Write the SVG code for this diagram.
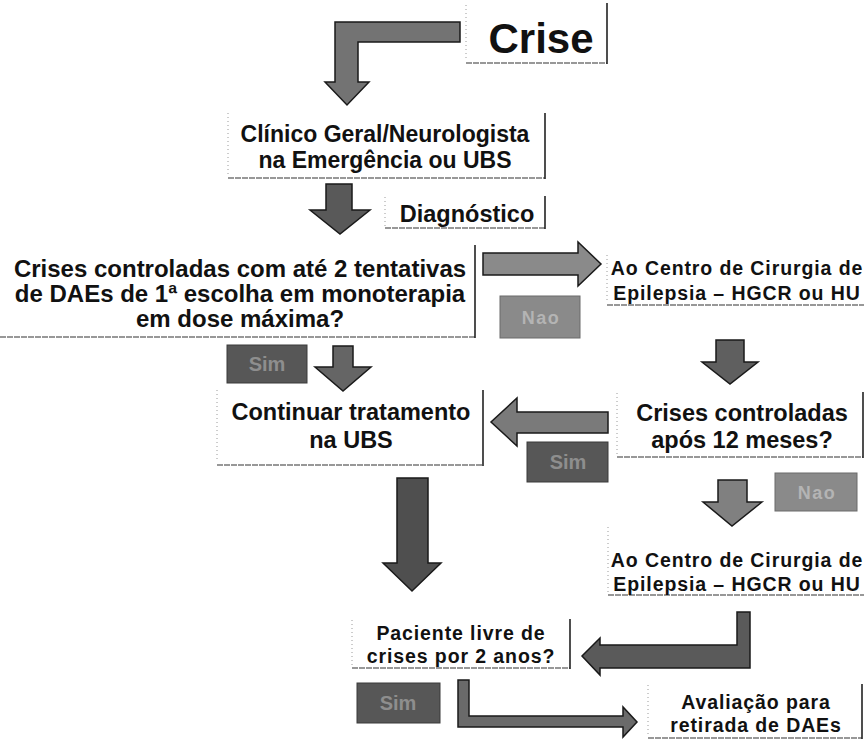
<svg xmlns="http://www.w3.org/2000/svg" width="864" height="740" viewBox="0 0 864 740">
<style>
.bg{fill:#ffffff}
.lft{stroke:#9a9a9a;stroke-width:1;stroke-dasharray:1 3;fill:none}
.btm{stroke:#333;stroke-width:1.2;stroke-dasharray:6 1;fill:none}
.rgt{stroke:#222;stroke-width:1.6;fill:none}
.big{font-family:"Liberation Sans",Arial,sans-serif;font-weight:bold;fill:#111;text-anchor:middle}
.sm{font-family:"Liberation Sans",Arial,sans-serif;font-weight:bold;fill:#111;text-anchor:middle;font-size:19.5px;letter-spacing:0.9px}
.arr{stroke:#1a1a1a;stroke-width:1.5;stroke-linejoin:miter}
.sim{fill:#575757;stroke:#3a3a3a;stroke-width:1}
.simt{font-family:"Liberation Sans",Arial,sans-serif;font-weight:bold;font-size:20px;fill:#8e8e8e;text-anchor:middle}
.nao{fill:#8a8a8a;stroke:#6a6a6a;stroke-width:1}
.naot{font-family:"Liberation Sans",Arial,sans-serif;font-weight:bold;font-size:18px;letter-spacing:1.5px;fill:#b4b4b4;text-anchor:middle}
</style>
<rect x="0" y="0" width="864" height="740" fill="#ffffff"/>
<g id="connectors">
<polygon class="arr" fill="#737373" points="460,22 335,22 335,82 325,82 347,105 369,82 358,82 358,42 460,42"/>
<polygon class="arr" fill="#595959" points="326,184 352,184 352,210 370,210 340,234 310,210 326,210"/>
<polygon class="arr" fill="#8a8a8a" points="483,253 578,253 578,242 601,264 578,286 578,275 483,275"/>
<polygon class="arr" fill="#656565" points="333,346 353,346 353,367 371,367 343,391 315,367 333,367"/>
<polygon class="arr" fill="#5f5f5f" points="716,340 744,340 744,362 758,362 730,384 702,362 716,362"/>
<polygon class="arr" fill="#7a7a7a" points="608,412 608,433 517,433 517,446 491,422 517,398 517,412"/>
<polygon class="arr" fill="#4f4f4f" points="397,478 428,478 428,563 441,563 412,591 383,563 397,563"/>
<polygon class="arr" fill="#808080" points="718,480 747,480 747,502 762,502 732,526 703,502 718,502"/>
<polygon class="arr" fill="#5a5a5a" points="737,612 750,612 750,668 600,668 600,675 582,656 600,638 600,645 737,645"/>
<polygon class="arr" fill="#6a6a6a" points="458,680 469,680 469,716 623,716 623,707 637,722 623,737 623,727 458,727"/>
</g>
<g id="crise">
<path class="lft" d="M466,5 V60"/>
<path class="btm" d="M466,63 H607"/>
<path class="rgt" d="M607,3 V64"/>
<text class="big" x="541" y="53" font-size="42">Crise</text>
</g>
<g id="clinico">
<path class="lft" d="M228,113 V176"/>
<path class="btm" d="M228,178 H545"/>
<path class="rgt" d="M545,113 V179"/>
<text class="big" x="385" y="142" font-size="23">Clínico Geral/Neurologista</text>
<text class="big" x="385" y="168" font-size="23">na Emergência ou UBS</text>
</g>
<g id="diagnostico">
<path class="lft" d="M385,197 V226"/>
<path class="btm" d="M385,228 H545"/>
<path class="rgt" d="M545,196 V229"/>
<text class="big" x="467" y="222" font-size="23.5">Diagnóstico</text>
</g>
<g id="crises-controladas">
<path class="btm" d="M0,337 H475"/>
<path class="rgt" d="M475,245 V338"/>
<text class="big" x="240" y="277" font-size="24">Crises controladas com até 2 tentativas</text>
<text class="big" x="240" y="302" font-size="24">de DAEs de 1ª escolha em monoterapia</text>
<text class="big" x="240" y="327" font-size="24">em dose máxima?</text>
</g>
<g id="label-nao-1">
<rect class="nao" x="500" y="296" width="80" height="42"/>
<text class="naot" x="541" y="324">Nao</text>
</g>
<g id="centro-1">
<path class="lft" d="M607,255 V302"/>
<path class="btm" d="M607,305 H864"/>
<text class="sm" x="737" y="275">Ao Centro de Cirurgia de</text>
<text class="sm" x="737" y="300">Epilepsia – HGCR ou HU</text>
</g>
<g id="label-sim-1">
<rect class="sim" x="227" y="345" width="80" height="38"/>
<text class="simt" x="267" y="371">Sim</text>
</g>
<g id="continuar">
<path class="lft" d="M217,390 V462"/>
<path class="btm" d="M217,465 H483"/>
<path class="rgt" d="M483,390 V466"/>
<text class="big" x="351" y="420" font-size="23.5">Continuar tratamento</text>
<text class="big" x="351" y="448" font-size="23.5">na UBS</text>
</g>
<g id="crises-12">
<path class="lft" d="M617,393 V455"/>
<path class="btm" d="M617,457 H863"/>
<path class="rgt" d="M863,392 V458"/>
<text class="big" x="742" y="421" font-size="23.5">Crises controladas</text>
<text class="big" x="742" y="448" font-size="23.5">após 12 meses?</text>
</g>
<g id="label-sim-2">
<rect class="sim" x="527" y="442" width="81" height="40"/>
<text class="simt" x="568" y="469">Sim</text>
</g>
<g id="label-nao-2">
<rect class="nao" x="775" y="473" width="82" height="38"/>
<text class="naot" x="817" y="499">Nao</text>
</g>
<g id="centro-2">
<path class="lft" d="M608,527 V592"/>
<path class="btm" d="M608,595 H864"/>
<text class="sm" x="737" y="567">Ao Centro de Cirurgia de</text>
<text class="sm" x="737" y="591">Epilepsia – HGCR ou HU</text>
</g>
<g id="paciente">
<path class="lft" d="M352,620 V666"/>
<path class="btm" d="M352,668 H570"/>
<path class="rgt" d="M570,619 V669"/>
<text class="sm" x="461" y="640">Paciente livre de</text>
<text class="sm" x="461" y="663">crises por 2 anos?</text>
</g>
<g id="label-sim-3">
<rect class="sim" x="357" y="683" width="83" height="40"/>
<text class="simt" x="398" y="710">Sim</text>
</g>
<g id="avaliacao">
<path class="lft" d="M648,685 V736"/>
<path class="btm" d="M648,738 H862"/>
<path class="rgt" d="M862,684 V739"/>
<text class="sm" x="756" y="709">Avaliação para</text>
<text class="sm" x="756" y="732">retirada de DAEs</text>
</g>
</svg>
